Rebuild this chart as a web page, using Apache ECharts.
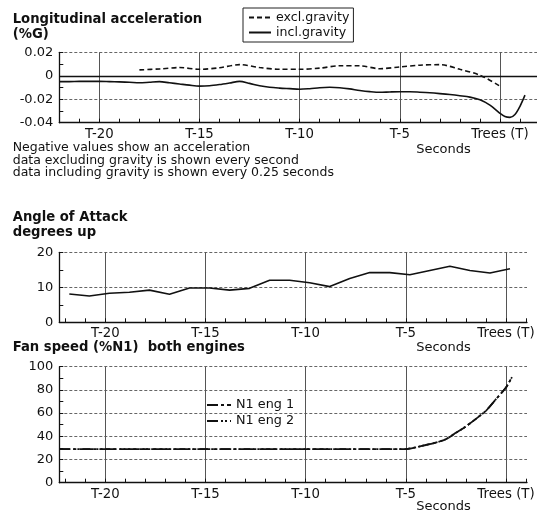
<!DOCTYPE html>
<html><head><meta charset="utf-8">
<script src="https://cdn.jsdelivr.net/npm/echarts@6/dist/echarts.min.js"></script>
<style>html,body{margin:0;padding:0;background:#fff}#c{width:537px;height:515px}</style>
</head><body><div id="c"></div>
<script>
// ---- tick arrays ----
const secondTicks = [-22,-21,-20,-19,-18,-17,-16,-15,-14,-13,-12,-11,-10,-9,-8,-7,-6,-5,-4,-3,-2,-1,0,1];
const labelTicks = [-20,-15,-10,-5,0];
const labelTexts = ['T-20','T-15','T-10','T-5','Trees (T)'];
const zeroRef = 0;

// ---- chart 1: longitudinal acceleration ----
const accInclX = [-22,-21.5,-21,-20.5,-20,-19.5,-19,-18.5,-18,-17.5,-17,-16.5,-16,-15.5,-15,-14.5,-14,-13.5,-13,-12.5,-12,-11.5,-11,-10.5,-10,-9.5,-9,-8.5,-8,-7.5,-7,-6.5,-6,-5.5,-5,-4.5,-4,-3.5,-3,-2.5,-2,-1.5,-1,-0.5,0,0.25,0.5,0.75,1,1.25];
const accInclY = [-0.0050,-0.0050,-0.0048,-0.0048,-0.0048,-0.0050,-0.0052,-0.0055,-0.0060,-0.0055,-0.0050,-0.0060,-0.0070,-0.0080,-0.0088,-0.0085,-0.0075,-0.0062,-0.0048,-0.0065,-0.0085,-0.0098,-0.0105,-0.0110,-0.0115,-0.0110,-0.0102,-0.0098,-0.0102,-0.0112,-0.0125,-0.0135,-0.0141,-0.0138,-0.0136,-0.0136,-0.0140,-0.0145,-0.0152,-0.0160,-0.0170,-0.0182,-0.0205,-0.0250,-0.0320,-0.0348,-0.0355,-0.0330,-0.0260,-0.0165];
const accExclX = [-18,-17,-16,-15,-14,-13,-12,-11,-10,-9,-8,-7,-6,-5,-4,-3,-2,-1,0];
const accExclY = [0.0050,0.0058,0.0070,0.0055,0.0068,0.0095,0.0070,0.0055,0.0055,0.0065,0.0085,0.0085,0.0060,0.0075,0.0090,0.0095,0.0055,0.0005,-0.0088];

// ---- chart 2: angle of attack ----
const aoaX = [-21.8,-20.8,-19.8,-18.8,-17.8,-16.8,-15.8,-14.8,-13.8,-12.8,-11.8,-10.8,-9.8,-8.8,-7.8,-6.8,-5.8,-4.8,-3.8,-2.8,-1.8,-0.8,0.2];
const aoaY = [8.1,7.5,8.3,8.6,9.2,8.0,9.8,9.8,9.2,9.7,12.0,12.0,11.3,10.2,12.5,14.2,14.2,13.6,14.8,16.0,14.8,14.1,15.3];

// ---- chart 3: fan speed ----
const fanX = [-22.3,-22,-21,-20,-19,-18,-17,-16,-15,-14,-13,-12,-11,-10,-9,-8,-7,-6,-5,-4.5,-4,-3.5,-3,-2.5,-2,-1.5,-1,-0.5,0,0.3];
const n1eng1 = [29,29,29,29,29,29,29,29,29,29,29,29,29,29,29,29,29,29,29,30.5,32.5,34.5,37.5,43,48.5,55,62,72,82,91];
const n1eng2 = [29,29,29,29,29,29,29,29,29,29,29,29,29,29,29,29,29,29,29,30.5,32.5,34.5,37.5,43,48.5,55,62,72,82,91];

const FF = "'DejaVu Sans', 'Liberation Sans', Arial, sans-serif";
const INK = '#111';
const pairs = (xs, ys) => xs.map((x, i) => [x, ys[i]]);

function mkX(gi, min, max) {
  return [{
    type: 'value', gridIndex: gi, min: min, max: max, position: 'bottom',
    axisLine: {show: true, onZero: false, lineStyle: {color: INK, width: 1.3}},
    axisTick: {show: true, inside: true, length: 4, customValues: secondTicks, lineStyle: {color: INK, width: 1}},
    axisLabel: {show: true, customValues: labelTicks, margin: 5, color: INK, fontSize: 13.3, fontFamily: FF,
      formatter: v => labelTexts[labelTicks.indexOf(v)] || ''},
    splitLine: {show: false}
  }, {
    type: 'value', gridIndex: gi, min: min, max: max,
    axisLine: {show: false, onZero: false},
    axisTick: {show: false, customValues: labelTicks},
    axisLabel: {show: false, customValues: labelTicks},
    splitLine: {show: true, lineStyle: {color: '#555', width: 1}}
  }];
}
function mkY(gi, min, max, interval) {
  return {
    type: 'value', gridIndex: gi, min: min, max: max, interval: interval, position: 'left',
    axisLine: {show: true, onZero: false, lineStyle: {color: INK, width: 1.3}},
    axisTick: {show: true, inside: true, length: 4, lineStyle: {color: INK}},
    minorTick: {show: true, splitNumber: 2, length: 4, lineStyle: {color: INK}},
    axisLabel: {margin: 6, color: INK, fontSize: 13, fontFamily: FF},
    splitLine: {show: true, lineStyle: {color: '#666', width: 1, type: [3, 2]}}
  };
}

const chart = echarts.init(document.getElementById('c'), null, {renderer: 'canvas'});
const txt = (s, x, y, size, bold, align) => ({
  type: 'text', x: x, y: y, silent: true,
  style: {text: s, fontSize: size, fontWeight: bold ? 'bold' : 'normal', fontFamily: FF, fill: INK,
    align: align || 'left', verticalAlign: 'middle'}
});

chart.setOption({
  animation: false,
  backgroundColor: '#fff',
  grid: [
    {left: 59.3, top: 52.3, width: 477.7, height: 70.4, outerBoundsMode: 'none'},
    {left: 59.3, top: 252.3, width: 467.7, height: 70, outerBoundsMode: 'none'},
    {left: 59.3, top: 366.7, width: 467.7, height: 116, outerBoundsMode: 'none'}
  ],
  xAxis: [].concat(mkX(0, -22, 1.85), mkX(1, -22.3, 1.05), mkX(2, -22.3, 1.05)),
  yAxis: [mkY(0, -0.04, 0.02, 0.02), mkY(1, 0, 20, 10), mkY(2, 0, 100, 20)],
  legend: [{
    data: ['excl.gravity', 'incl.gravity'], orient: 'vertical', left: 243, top: 8,
    borderColor: '#222', borderWidth: 1, padding: [3, 4, 3, 5], itemGap: 2,
    itemWidth: 22, itemHeight: 14.5, itemTextGap: 6, selectedMode: false,
    itemStyle: {opacity: 0},
    textStyle: {fontSize: 12.6, color: INK, fontFamily: FF}
  }, {
    data: ['N1 eng 1', 'N1 eng 2'], orient: 'vertical', left: 206, top: 398.5,
    padding: 0, itemGap: 3, itemWidth: 24, itemHeight: 14, itemTextGap: 4, selectedMode: false,
    itemStyle: {opacity: 0},
    textStyle: {fontSize: 12.8, color: INK, fontFamily: FF}
  }],
  graphic: [
    txt('Longitudinal acceleration', 12.7, 19.7, 13.2, true),
    txt('(%G)', 12.7, 35, 13.2, true),
    txt('Negative values show an acceleration', 12.7, 148, 12.5, false),
    txt('data excluding gravity is shown every second', 12.7, 160.5, 12.5, false),
    txt('data including gravity is shown every 0.25 seconds', 12.7, 172.5, 12.5, false),
    txt('Seconds', 443.5, 150, 13, false, 'center'),
    txt('Angle of Attack', 12.7, 217.5, 13.2, true),
    txt('degrees up', 12.7, 233, 13.2, true),
    txt('Seconds', 443.5, 348, 13, false, 'center'),
    txt('Fan speed (%N1)  both engines', 12.7, 348, 13.2, true),
    txt('Seconds', 443.5, 507, 13, false, 'center')
  ],
  series: [
    {name: 'excl.gravity', type: 'line', xAxisIndex: 0, yAxisIndex: 0, data: pairs(accExclX, accExclY),
      symbol: 'none', smooth: 0.3, lineStyle: {color: INK, width: 1.6, type: [5, 3]}, itemStyle: {color: INK}},
    {name: 'incl.gravity', type: 'line', xAxisIndex: 0, yAxisIndex: 0, data: pairs(accInclX, accInclY),
      symbol: 'none', smooth: 0.3, lineStyle: {color: INK, width: 1.6}, itemStyle: {color: INK},
      markLine: {silent: true, symbol: 'none', label: {show: false}, animation: false,
        lineStyle: {color: INK, type: 'solid', width: 1.4}, data: [{yAxis: zeroRef}]}},
    {name: 'AoA', type: 'line', xAxisIndex: 2, yAxisIndex: 1, data: pairs(aoaX, aoaY),
      symbol: 'none', lineStyle: {color: INK, width: 1.6}, itemStyle: {color: INK}},
    {name: 'N1 eng 1', type: 'line', xAxisIndex: 4, yAxisIndex: 2, data: pairs(fanX, n1eng1),
      symbol: 'none', smooth: 0.2, lineStyle: {color: INK, width: 1.8, type: [11, 3, 3, 3]}, itemStyle: {color: INK}},
    {name: 'N1 eng 2', type: 'line', xAxisIndex: 4, yAxisIndex: 2, data: pairs(fanX, n1eng2),
      symbol: 'none', smooth: 0.2, lineStyle: {color: INK, width: 1.8, type: [11, 3, 2, 2, 2, 3]}, itemStyle: {color: INK}}
  ]
});
</script></body></html>
